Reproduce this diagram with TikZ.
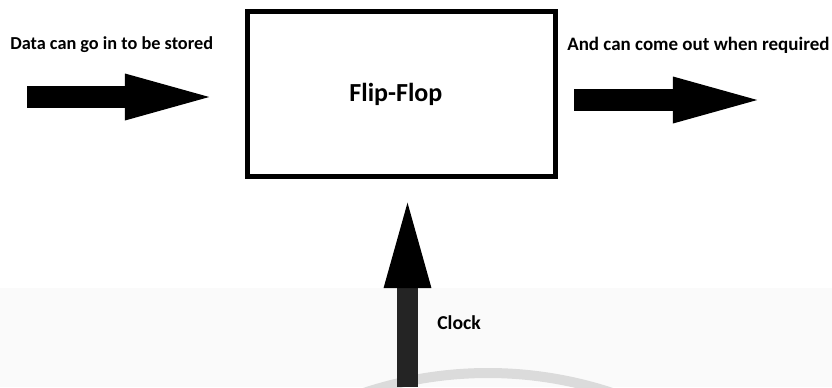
\documentclass[tikz,border=0pt]{standalone}
\usepackage{fontspec}
\setmainfont{Carlito}
\usetikzlibrary{arrows.meta, positioning}

\begin{document}
\begin{tikzpicture}[
    x=0.025cm, y=-0.025cm,
    ffbox/.style={rectangle, draw, line width=0.125cm, minimum width=7.7cm, minimum height=4.125cm, font=\bfseries\fontsize{18.5}{20}\selectfont},
    lbl/.style={anchor=west, inner sep=0pt, font=\bfseries\fontsize{13}{15}\selectfont},
    bigarrow/.style={line width=0.525cm, -{Triangle[length=2.5cm, width=0.975cm]}},
  ]
    \useasboundingbox (0,0) rectangle (832,387);
    \fill[black!2] (0,288) rectangle (832,387);
    \begin{scope}
      \clip (0,0) rectangle (832,387);
      \draw[black!14, line width=0.25cm] (488,769) ++(-70:396) arc (-70:-110:396);
    \end{scope}

    % Flip-flop
    \node[ffbox] (ff) at (401.5,94) {\hspace{-8pt}Flip-Flop};

    % Labels
    \node[lbl] (datain) at (10,45) {Data can go in to be stored};
    \node[lbl, font=\bfseries\fontsize{13.5}{15}\selectfont] (dataout) at (567,45) {And can come out when required};
    \node[lbl, font=\bfseries\fontsize{14}{16}\selectfont] (clk) at (437,323) {Clock};

    % Arrow ends
    \coordinate (inA) at (27,97);
    \coordinate (inB) at (225,97);
    \coordinate (outA) at (574,100);
    \coordinate (outB) at (773,100);
    \coordinate (clkA) at (407.5,387);
    \coordinate (clkB) at (407.5,188);

    % Arrows
    \draw[bigarrow] (inA) -- (inB);
    \draw[bigarrow] (outA) -- (outB);
    \draw[bigarrow, black!86, -{Triangle[length=2.5cm, width=1cm, black]}] (clkA) -- (clkB);
  \end{tikzpicture}
\end{document}
